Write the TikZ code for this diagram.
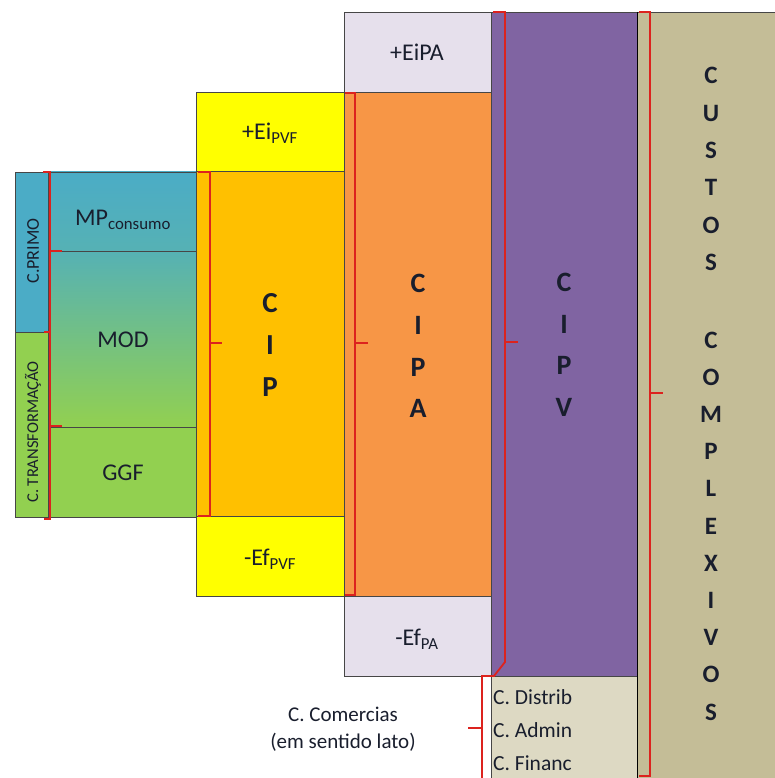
\documentclass[tikz,border=0pt]{standalone}
\usepackage{fontspec}
\setmainfont{Carlito}
\definecolor{cblue}{RGB}{75,172,198}
\definecolor{cgreen}{RGB}{146,208,80}
\definecolor{cyellow}{RGB}{255,255,0}
\definecolor{corange}{RGB}{255,192,0}
\definecolor{corange2}{RGB}{247,150,70}
\definecolor{clav}{RGB}{230,224,236}
\definecolor{cpurple}{RGB}{128,100,162}
\definecolor{cbeige}{RGB}{221,217,195}
\definecolor{ckhaki}{RGB}{196,189,151}
\definecolor{bred}{RGB}{220,35,30}
\definecolor{boxline}{RGB}{70,70,70}
\definecolor{ink}{RGB}{25,30,45}
\begin{document}
\begin{tikzpicture}[x=1pt,y=-1pt,
  box/.style={draw=boxline, line width=0.8pt, inner sep=0pt, outer sep=0pt, anchor=north west},
  lbl/.style={text=ink, font=\fontsize{24}{28}\selectfont, inner sep=0pt},
  small/.style={text=ink, font=\fontsize{21.5}{24}\selectfont, inner sep=0pt},
  side/.style={text=ink, inner sep=0pt, rotate=90},
  brk/.style={draw=bred, line width=1.8pt},
  big/.style={text=ink, align=center, inner sep=0pt}
]
\useasboundingbox (0,0) rectangle (774,778);
% boxes
\node[box, fill=cblue, minimum width=33pt, minimum height=160pt] (cprimo) at (15,172) {};
\node[box, fill=cgreen, minimum width=33pt, minimum height=185pt] (ctransf) at (15,332) {};
\node[box, top color=cblue, bottom color=cblue!85!cgreen, minimum width=149pt, minimum height=79pt] (mp) at (48,172) {};
\node[box, top color=cblue!85!cgreen, bottom color=cgreen, minimum width=149pt, minimum height=176pt] (mod) at (48,251) {};
\node[box, fill=cgreen, minimum width=149pt, minimum height=90pt] (ggf) at (48,427) {};
\node[box, fill=cyellow, minimum width=148pt, minimum height=79pt] (eipvf) at (196,92) {};
\node[box, fill=corange, minimum width=148pt, minimum height=345pt] (cip) at (196,171) {};
\node[box, fill=cyellow, minimum width=148pt, minimum height=80pt] (efpvf) at (196,516) {};
\node[box, fill=clav, minimum width=147pt, minimum height=80pt] (eipa) at (344,12) {};
\node[box, fill=corange2, minimum width=147pt, minimum height=504pt] (cipa) at (344,92) {};
\node[box, fill=clav, minimum width=147pt, minimum height=80pt] (efpa) at (344,596) {};
\node[box, fill=cpurple, minimum width=146pt, minimum height=664pt] (cipv) at (491,12) {};
\node[box, fill=cbeige, minimum width=146pt, minimum height=104pt] (comerc) at (491,676) {};
\node[box, fill=ckhaki, minimum width=140pt, minimum height=770pt] (custos) at (637,12) {};
\draw[black, line width=1pt] (637,12) -- (637,778);
% brackets
\draw[brk] (43,172) -- (50,172) -- (50,519) -- (44,519);
\draw[brk] (50,251) -- (62,251);
\draw[brk] (50,426) -- (62,426);
\draw[brk] (44,332) -- (50,332);
\draw[brk] (198,172) -- (210,172) -- (210,516) -- (198,516);
\draw[brk] (210,343) -- (222,343);
\draw[brk] (345,93) -- (355,93) -- (355,595) -- (345,595);
\draw[brk] (355,343) -- (368,343);
\draw[brk] (493,12) -- (505,12) -- (505,662) -- (494,676) -- (482,676) -- (482,778);
\draw[brk] (505,342) -- (518,342);
\draw[brk] (482,728) -- (468,728);
\draw[brk] (639,12) -- (650,12) -- (650,776) -- (639,776);
\draw[brk] (650,393) -- (663,393);
% labels
\node[side, font=\fontsize{18}{20}\selectfont] (tprimo) at (33,251) {C.PRIMO};
\node[side, font=\fontsize{16.5}{20}\selectfont] (ttransf) at (33,432) {C. TRANSFORMAÇÃO};
\node[lbl] (tmp) at (123,220) {MP\textsubscript{consumo}};
\node[lbl] (tmod) at (123,340) {MOD};
\node[lbl] (tggf) at (123,473) {GGF};
\node[lbl] (teipvf) at (270,133) {+Ei\textsubscript{PVF}};
\node[lbl] (tefpvf) at (270,559) {-Ef\textsubscript{PVF}};
\node[lbl] (teipa) at (417,52) {+EiPA};
\node[lbl] (tefpa) at (417,639) {-Ef\textsubscript{PA}};
\node[big, font=\bfseries\fontsize{29}{42}\selectfont] (tcip) at (270,345) {C\\I\\P};
\node[big, font=\bfseries\fontsize{28}{41.7}\selectfont] (tcipa) at (418,346) {C\\I\\P\\A};
\node[big, font=\bfseries\fontsize{28}{41.5}\selectfont] (tcipv) at (564,345) {C\\I\\P\\V};
\node[big, font=\bfseries\fontsize{25}{37.4}\selectfont] (tcustos) at (711,169) {C\\U\\S\\T\\O\\S};
\node[big, font=\bfseries\fontsize{25}{37.2}\selectfont] (tcompl) at (711,526) {C\\O\\M\\P\\L\\E\\X\\I\\V\\O\\S};
\node[small, align=center, font=\fontsize{21}{27}\selectfont] (tcomerc) at (343,729) {C. Comercias\\(em sentido lato)};
\node[small, anchor=west] (tdist) at (493,697) {C. Distrib};
\node[small, anchor=west] (tadmin) at (493,730) {C. Admin};
\node[small, anchor=west] (tfin) at (493,763) {C. Financ};
\end{tikzpicture}
\end{document}
